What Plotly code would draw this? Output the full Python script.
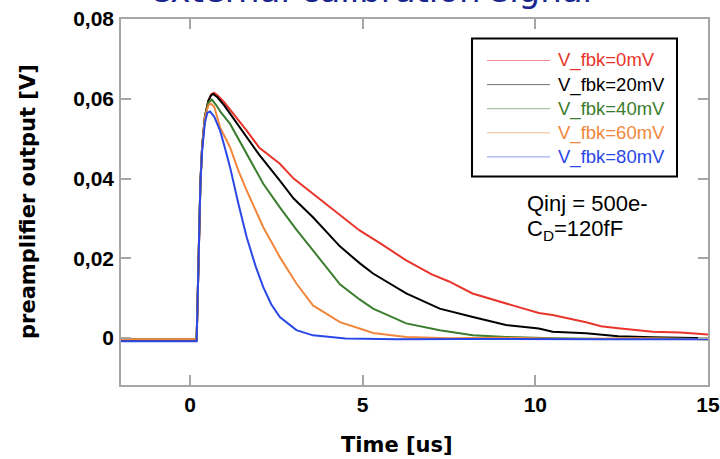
import plotly.graph_objects as go

# ---------------- data ----------------
series_names = ["V_fbk=0mV", "V_fbk=20mV", "V_fbk=40mV", "V_fbk=60mV", "V_fbk=80mV"]
series_colors = ["#e8352b", "#000000", "#3b7d2e", "#f0873c", "#2a48e6"]

t_0mV = [-2, -1, 0, 0.19, 0.22, 0.26, 0.30, 0.35, 0.43, 0.53, 0.62, 0.70, 0.80, 1.0, 1.3,
         1.64, 2.0, 2.6, 3.0, 3.56, 4.0, 4.34, 4.91, 5.5, 6.26, 7.0, 7.5, 8.18, 9.0, 9.54,
         10.1, 10.5, 11.47, 11.9, 12.4, 13.4, 14.2, 14.9, 15]
v_0mV = [-0.0004, -0.0005, -0.0004, -0.0005, 0.010, 0.025, 0.039, 0.048, 0.0555, 0.0595,
         0.0612, 0.0615, 0.0608, 0.0590, 0.0558, 0.0520, 0.0478, 0.0437, 0.0400, 0.0362,
         0.0330, 0.0307, 0.0270, 0.0238, 0.0195, 0.0160, 0.0142, 0.0112, 0.0092, 0.0077,
         0.0063, 0.0058, 0.0040, 0.0030, 0.0025, 0.0016, 0.0014, 0.0010, 0.0009]

t_20mV = [-2, -1, 0, 0.19, 0.22, 0.26, 0.30, 0.35, 0.43, 0.53, 0.60, 0.67, 0.80, 1.0, 1.3,
          1.64, 2.0, 2.6, 3.0, 3.56, 4.0, 4.34, 4.91, 5.3, 6.26, 7.23, 8.19, 9.15, 10.1,
          10.5, 11.47, 12.4, 13.4, 14.9, 15]
v_20mV = [-0.0004, -0.0004, -0.0004, -0.0004, 0.010, 0.025, 0.039, 0.048, 0.0555, 0.0595,
          0.0608, 0.0612, 0.0603, 0.0582, 0.0545, 0.0503, 0.0460, 0.0395, 0.0350, 0.0303,
          0.0262, 0.0230, 0.0188, 0.0162, 0.0112, 0.0074, 0.0053, 0.0033, 0.0024, 0.0016,
          0.0012, 0.0005, 0.0002, 0.0000, 0.0000]

t_40mV = [-2, -1, 0, 0.19, 0.22, 0.26, 0.30, 0.35, 0.43, 0.53, 0.63, 0.75, 0.90, 1.16,
          1.64, 2.12, 2.6, 3.08, 3.56, 4.05, 4.34, 4.91, 5.3, 6.26, 7.23, 8.19, 9.15, 10.5,
          12.0, 13.5, 15]
v_40mV = [-0.0003, -0.0003, -0.0003, -0.0003, 0.010, 0.025, 0.039, 0.048, 0.0555, 0.0590,
          0.0598, 0.0585, 0.0565, 0.0537, 0.0462, 0.0387, 0.0328, 0.0272, 0.0220, 0.0165,
          0.0135, 0.0097, 0.0074, 0.0037, 0.0020, 0.0007, 0.0003, 0.0000, -0.0002, 0.0000,
          -0.0003]

t_60mV = [-2, -1, 0, 0.19, 0.22, 0.26, 0.30, 0.35, 0.43, 0.53, 0.60, 0.70, 0.87, 1.16,
          1.40, 1.64, 2.12, 2.6, 3.08, 3.56, 4.05, 4.34, 4.91, 5.3, 6.26, 7.5, 9.0, 11.0,
          13.0, 15]
v_60mV = [-0.0003, -0.0003, -0.0003, -0.0003, 0.010, 0.025, 0.039, 0.048, 0.0553, 0.0583,
          0.0588, 0.0580, 0.0528, 0.0478, 0.0420, 0.0370, 0.0278, 0.0203, 0.0137, 0.0082,
          0.0055, 0.0040, 0.0024, 0.0013, 0.0003, 0.0000, 0.0001, -0.0002, 0.0000, -0.0003]

t_80mV = [-2, -1, 0, 0.19, 0.22, 0.26, 0.30, 0.35, 0.43, 0.50, 0.58, 0.70, 0.87, 1.0,
          1.16, 1.40, 1.64, 1.90, 2.12, 2.35, 2.6, 3.08, 3.56, 4.5, 6.0, 8.0, 10.0, 12.0, 15]
v_80mV = [-0.0008, -0.0008, -0.0008, -0.0008, 0.010, 0.025, 0.039, 0.047, 0.0540, 0.0565,
          0.0568, 0.0555, 0.0520, 0.0480, 0.0428, 0.0337, 0.0253, 0.0180, 0.0128, 0.0085,
          0.0053, 0.0020, 0.0007, -0.0001, -0.0003, -0.0002, -0.0003, -0.0003, -0.0003]

series_t = [t_0mV, t_20mV, t_40mV, t_60mV, t_80mV]
series_v = [v_0mV, v_20mV, v_40mV, v_60mV, v_80mV]

y_tickvals = [0, 0.02, 0.04, 0.06, 0.08]
y_ticktext = ["0", "0,02", "0,04", "0,06", "0,08"]
x_tickvals = [0, 5, 10, 15]

# ---------------- layout geometry ----------------
W, H = 720, 459
ML, MR, MT, MB = 121, 12, 19, 74
PW, PH = W - ML - MR, H - MT - MB


def px(xp):
    return (xp - ML) / PW


def py(yp):
    return (H - MB - yp) / PH


fig = go.Figure()
for name, color, t, v in zip(series_names, series_colors, series_t, series_v):
    fig.add_trace(go.Scatter(x=t, y=v, mode="lines", name=name,
                             line=dict(color=color, width=2), showlegend=False))

axis_common = dict(showline=True, linecolor="#a6a6a6", linewidth=1.5, mirror="ticks",
                   ticks="inside", ticklen=10, tickwidth=1.5, tickcolor="#a6a6a6",
                   showgrid=False, zeroline=False, automargin=False,
                   tickfont=dict(family="Liberation Sans", size=21, color="#000000",
                                 weight="bold"))

fig.update_layout(
    template="none",
    width=W, height=H,
    margin=dict(l=ML, r=MR, t=MT, b=MB, autoexpand=False),
    paper_bgcolor="white", plot_bgcolor="white",
    showlegend=False,
    xaxis=dict(range=[-2, 15], tickvals=x_tickvals, ticklabelstandoff=0, **axis_common),
    yaxis=dict(range=[-0.01175, 0.08], tickvals=y_tickvals, ticktext=y_ticktext,
               ticklabelstandoff=1, **axis_common),
)

annotations = []
# cut-off title (only its lower part shows at the top edge)
annotations.append(dict(text="external calibration signal", x=px(371), y=py(12),
                        xref="paper", yref="paper", xanchor="center", yanchor="bottom",
                        showarrow=False,
                        font=dict(family="DejaVu Sans", size=34, color="#1a2690")))
# axis titles
annotations.append(dict(text="Time [us]", x=px(397), y=py(445), xref="paper", yref="paper",
                        xanchor="center", yanchor="middle", showarrow=False,
                        font=dict(family="DejaVu Sans", size=21, color="#000000",
                                  weight="bold")))
annotations.append(dict(text="preamplifier output [V]", x=px(28), y=py(202), xref="paper",
                        yref="paper", xanchor="center", yanchor="middle", textangle=-90,
                        showarrow=False,
                        font=dict(family="DejaVu Sans", size=21, color="#000000",
                                  weight="bold")))
# info text
annotations.append(dict(text="Qinj = 500e-", x=px(525), y=py(203), xref="paper",
                        yref="paper", xanchor="left", yanchor="middle", showarrow=False,
                        font=dict(family="Liberation Sans", size=22, color="#000000")))
annotations.append(dict(text="C<sub>D</sub>=120fF", x=px(525), y=py(230), xref="paper",
                        yref="paper", xanchor="left", yanchor="middle", showarrow=False,
                        font=dict(family="Liberation Sans", size=22, color="#000000")))

shapes = []
# manual legend box
LX0, LY0, LX1, LY1 = 472, 38.5, 677, 176.5
shapes.append(dict(type="rect", xref="paper", yref="paper", x0=px(LX0), x1=px(LX1),
                   y0=py(LY0), y1=py(LY1), line=dict(color="#000000", width=2),
                   fillcolor="white", layer="above"))
for i, (name, color) in enumerate(zip(series_names, series_colors)):
    yc = 60.5 + 24.1 * i
    shapes.append(dict(type="line", xref="paper", yref="paper", x0=px(487), x1=px(550),
                       y0=py(yc), y1=py(yc), line=dict(color=color, width=1),
                       opacity=0.55, layer="above"))
    annotations.append(dict(text=name, x=px(556), y=py(yc), xref="paper", yref="paper",
                            xanchor="left", yanchor="middle", showarrow=False,
                            font=dict(family="Liberation Sans", size=18.5, color=color)))

fig.update_layout(annotations=annotations, shapes=shapes)
fig.write_html("out.html", config={"displayModeBar": False},
               post_script="document.body.style.margin='0px';")
